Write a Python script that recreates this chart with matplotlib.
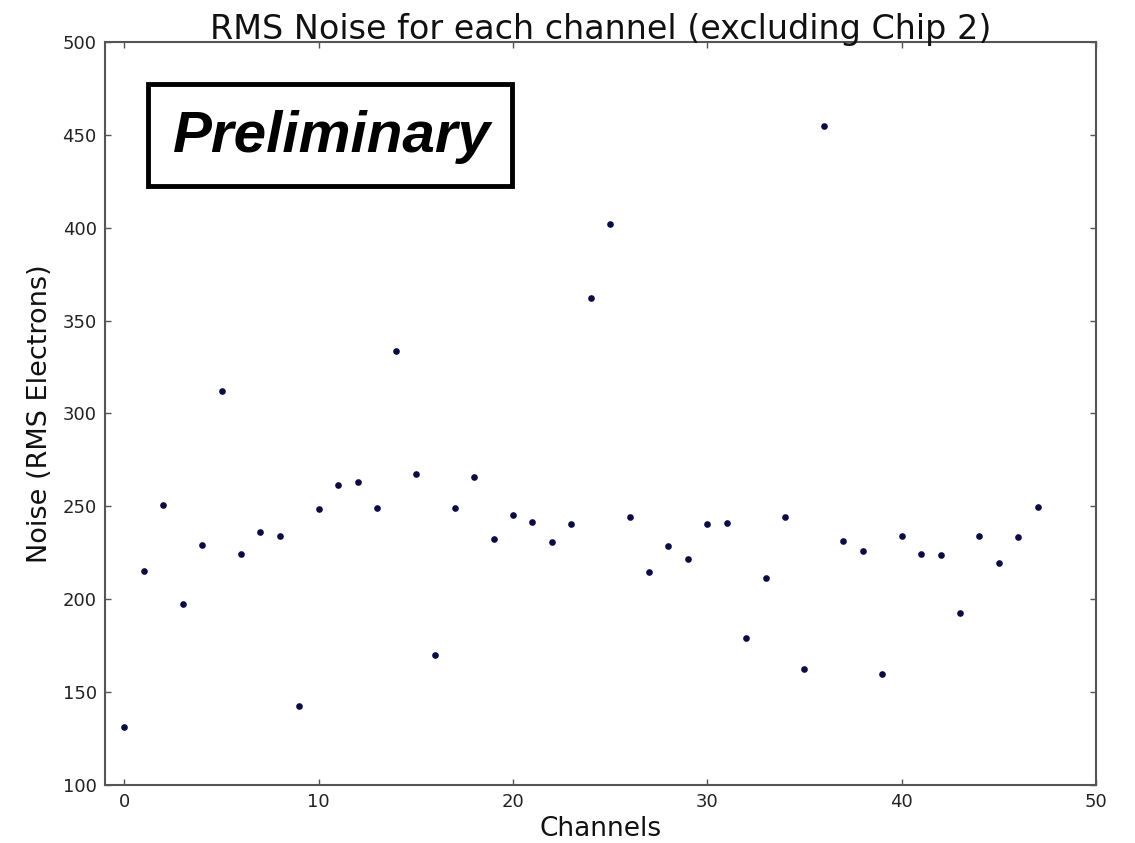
import numpy as np
import matplotlib
matplotlib.use('Agg')
import matplotlib.pyplot as plt
from matplotlib.patches import Rectangle

# RMS noise per channel
channels = np.arange(48)
noise = [131.4, 215.4, 250.6, 197.5, 229.2, 312.1, 224.4, 236.4, 234.1, 142.7,
         248.4, 261.4, 263.1, 249.0, 333.7, 267.4, 170.2, 249.0, 265.7, 232.3,
         245.4, 241.8, 231.0, 240.5, 362.4, 402.2, 244.1, 214.8, 228.7, 221.5,
         240.5, 241.2, 179.0, 211.3, 244.1, 162.3, 454.8, 231.5, 226.2, 159.8,
         233.9, 224.4, 223.8, 192.8, 233.9, 219.5, 233.4, 249.5]

x_ticks = [0, 10, 20, 30, 40, 50]
y_ticks = [100, 150, 200, 250, 300, 350, 400, 450, 500]

fig = plt.figure(figsize=(11.35, 8.43), dpi=100)
fig.subplots_adjust(left=0.0925, right=0.9656, top=0.9502, bottom=0.0688)
ax = fig.add_subplot(111)

ax.plot(channels, noise, 'o', color='#0c0c45', markersize=4.8, markeredgewidth=0)

ax.set_xlim(-1, 50)
ax.set_ylim(100, 500)
ax.set_xticks(x_ticks)
ax.set_yticks(y_ticks)

ax.tick_params(direction='in', length=4, width=1, color='#555555',
               top=True, right=True, labelsize=13, labelcolor='#222222', pad=6)
for sp in ax.spines.values():
    sp.set_color('#555555')
    sp.set_linewidth(1.5)

ax.set_title('RMS Noise for each channel (excluding Chip 2)', fontsize=24,
             color='#111111', pad=2)
ax.set_xlabel('Channels', fontsize=19, color='#111111', labelpad=3)
ax.set_ylabel('Noise (RMS Electrons)', fontsize=19.5, color='#111111', labelpad=7)

# "Preliminary" stamp
ax.add_patch(Rectangle((0.0434, 0.806), 0.3673, 0.1375, transform=ax.transAxes,
                       facecolor='white', edgecolor='black', linewidth=3.5,
                       zorder=3))
ax.text(0.229, 0.852, 'Preliminary', transform=ax.transAxes,
        fontsize=42, fontweight='bold', fontstyle='italic',
        family='Liberation Sans', ha='center', va='baseline', zorder=4)

fig.savefig('out.png', dpi=100)
